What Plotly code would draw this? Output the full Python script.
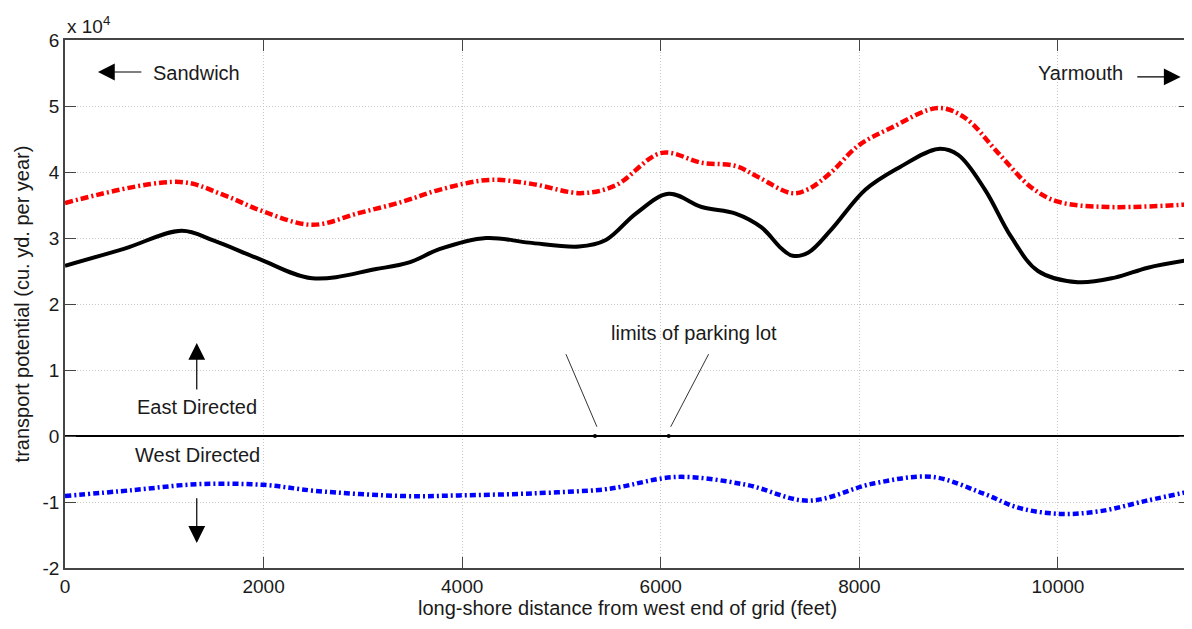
import plotly.graph_objects as go

# distances along shore (feet) and transport potential (x 10^4 cu. yd. per year)
net_x = [0, 600, 1176, 1500, 1960, 2490, 3135, 3467, 3770, 4241, 4673, 5176, 5447, 5749,
         6080, 6412, 6754, 7015, 7216, 7330, 7487, 7719, 8060, 8392, 8794, 8995, 9266,
         9528, 9799, 10201, 10573, 10905, 11330]
net_y = [2.58, 2.84, 3.11, 2.96, 2.68, 2.39, 2.53, 2.63, 2.83, 3.00, 2.93, 2.87, 2.97, 3.37,
         3.67, 3.47, 3.37, 3.16, 2.84, 2.73, 2.78, 3.13, 3.73, 4.06, 4.35, 4.26, 3.73,
         3.02, 2.50, 2.33, 2.40, 2.55, 2.67]

east_x = [0, 1156, 1600, 2000, 2490, 2965, 3400, 3770, 4271, 4700, 5206, 5548, 6010, 6412,
          6754, 6985, 7317, 7487, 7719, 7990, 8322, 8794, 9065, 9397, 9729, 10000, 10503, 11330]
east_y = [3.53, 3.85, 3.65, 3.40, 3.20, 3.38, 3.55, 3.73, 3.88, 3.82, 3.68, 3.80, 4.29, 4.14,
          4.09, 3.92, 3.68, 3.74, 4.00, 4.40, 4.67, 4.97, 4.82, 4.29, 3.77, 3.55, 3.47, 3.51]

west_x = [0, 683, 1337, 2000, 2513, 3417, 3970, 4704, 5427, 5600, 6161, 6864, 7487, 8141,
          8734, 9246, 9608, 10020, 10422, 10894, 11330]
west_y = [-0.91, -0.82, -0.73, -0.74, -0.83, -0.91, -0.90, -0.87, -0.81, -0.77, -0.62, -0.74,
          -0.98, -0.72, -0.62, -0.87, -1.09, -1.18, -1.14, -0.98, -0.84]

lot_x = [5337, 6080]
lot_y = [0, 0]

x_ticks = [0, 2000, 4000, 6000, 8000, 10000]
x_labels = ["0", "2000", "4000", "6000", "8000", "10000"]
y_ticks = [-2, -1, 0, 1, 2, 3, 4, 5, 6]
y_labels = ["-2", "-1", "0", "1", "2", "3", "4", "5", "6"]

FONT = "Liberation Sans, Arial, sans-serif"
TXT = "#1a1a1a"

fig = go.Figure()
fig.add_trace(go.Scatter(x=east_x, y=east_y, mode="lines", line=dict(color="#ff0000", width=4.5, dash="8px,3px,2px,3px", shape="spline", smoothing=1.0), showlegend=False))
fig.add_trace(go.Scatter(x=net_x, y=net_y, mode="lines", line=dict(color="#000000", width=4, shape="spline", smoothing=1.0), showlegend=False))
fig.add_trace(go.Scatter(x=west_x, y=west_y, mode="lines", line=dict(color="#0000ff", width=4.5, dash="6px,3px,2px,3px", shape="spline", smoothing=1.0), showlegend=False))
fig.add_trace(go.Scatter(x=lot_x, y=lot_y, mode="markers", marker=dict(color="#000", size=4), showlegend=False))

# leader lines for parking lot
fig.add_shape(type="line", x0=5045, y0=1.24, x1=5357, y1=0.14, line=dict(color="#333", width=1))
fig.add_shape(type="line", x0=6482, y0=1.24, x1=6100, y1=0.14, line=dict(color="#333", width=1))

ann = []
def text(x, y, s):
    ann.append(dict(x=x, y=y, xref="x", yref="y", text=s, showarrow=False,
                    font=dict(family=FONT, size=20, color=TXT)))

def arrow(xh, yh, xt, yt):
    ann.append(dict(x=xh, y=yh, ax=xt, ay=yt, xref="x", yref="y", axref="x", ayref="y",
                    text="", showarrow=True, arrowhead=2, arrowsize=2.8, arrowwidth=1.2,
                    arrowcolor="#000"))

text(1327, 5.5, "Sandwich")
arrow(332, 5.515, 784, 5.515)
text(10231, 5.5, "Yarmouth")
arrow(11236, 5.44, 10784, 5.44)
text(1327, 0.44, "East Directed")
arrow(1327, 1.41, 1327, 0.68)
text(1337, -0.29, "West Directed")
arrow(1327, -1.62, 1327, -0.92)
text(6330, 1.56, "limits of parking lot")

ann.append(dict(x=0, y=1, xref="paper", yref="paper", xanchor="left", yanchor="bottom",
                yshift=1, text="x 10<sup>4</sup>", showarrow=False,
                font=dict(family=FONT, size=19, color=TXT)))

# page body adds an 8px offset; margins compensate so the axes box sits where the reference has it
fig.update_layout(
    width=1184, height=613,
    margin=dict(l=57, r=0, t=32, b=53),
    paper_bgcolor="white", plot_bgcolor="white",
    font=dict(family=FONT, size=19, color=TXT),
    annotations=ann,
    xaxis=dict(range=[0, 11330], tickvals=x_ticks, ticktext=x_labels,
               showgrid=True, gridcolor="#c8c8c8", griddash="1px,2px", gridwidth=1,
               showline=True, linecolor="#444", linewidth=1.5, mirror="ticks",
               ticks="inside", ticklen=11, tickcolor="#444", zeroline=False,
               title=dict(text="long-shore distance from west end of grid (feet)",
                          font=dict(size=20), standoff=4),
               tickfont=dict(size=19)),
    yaxis=dict(range=[-2, 6], tickvals=y_ticks, ticktext=y_labels,
               showgrid=True, gridcolor="#c8c8c8", griddash="1px,2px", gridwidth=1,
               showline=True, linecolor="#444", linewidth=1.5, mirror="ticks",
               ticks="inside", ticklen=11, tickcolor="#444",
               zeroline=True, zerolinecolor="#000", zerolinewidth=1.5,
               title=dict(text="transport potential (cu. yd. per year)",
                          font=dict(size=20), standoff=8),
               tickfont=dict(size=19)),
)

fig.write_html("out.html")
